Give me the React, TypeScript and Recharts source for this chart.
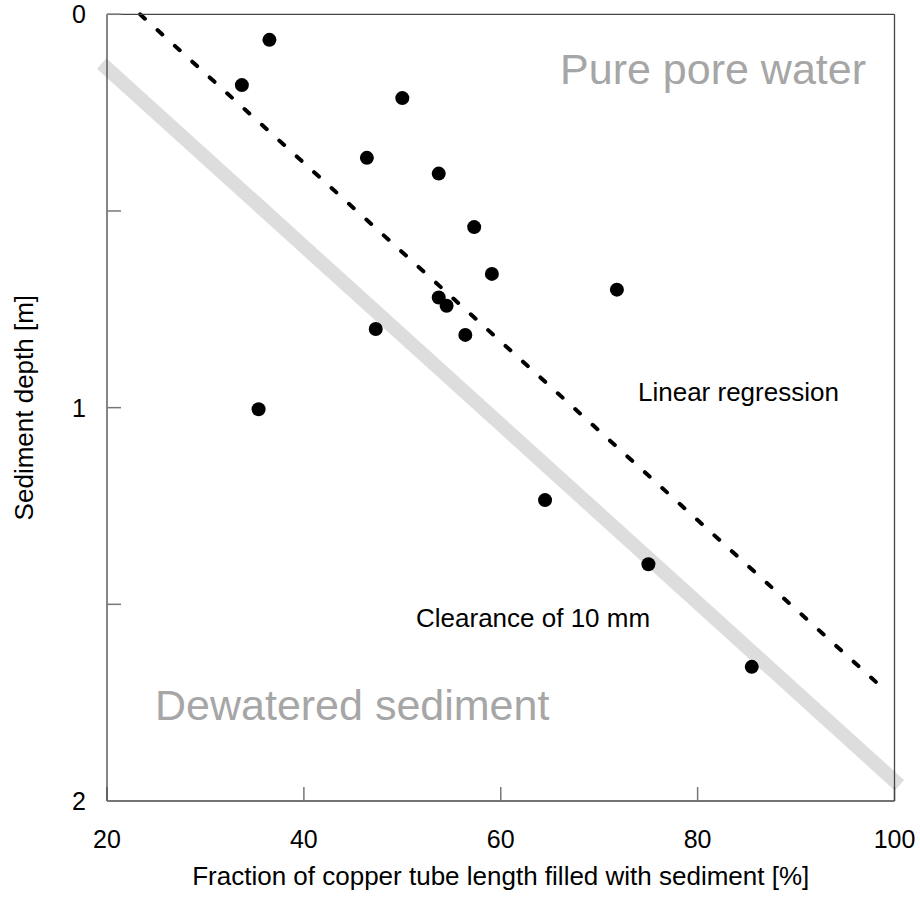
import React from "react";
import {
  ScatterChart,
  Scatter,
  XAxis,
  YAxis,
  ReferenceLine,
  Customized,
} from "recharts";

document.body.style.margin = "0";

// fraction of copper tube filled [%] and sediment depth [m]
const fillFraction = [33.7, 36.5, 50.0, 46.4, 53.7, 57.3, 59.1, 71.8, 53.7, 54.5, 47.3, 56.4, 35.4, 64.5, 75.0, 85.5];
const sedimentDepth = [0.18, 0.065, 0.213, 0.365, 0.405, 0.541, 0.66, 0.7, 0.72, 0.741, 0.8, 0.815, 1.004, 1.235, 1.398, 1.659];

const xTicks = [20, 40, 60, 80, 100];
const yTicks = [0, 0.5, 1, 1.5, 2];

// dashed regression line and grey 10 mm clearance band (end points)
const regressionX = [23.36, 98.85];
const regressionY = [0, 1.714];
const clearanceX = [19.46, 100.5];
const clearanceY = [0.125, 1.96];

const points = fillFraction.map((x, i) => ({ x, y: sedimentDepth[i] }));
const regression = regressionX.map((x, i) => ({ x, y: regressionY[i] }));
const clearance = clearanceX.map((x, i) => ({ x, y: clearanceY[i] }));

const font = "'Liberation Sans', Arial, Helvetica, sans-serif";
const axisStroke = { stroke: "#444", strokeWidth: 1.3 };
const tickStroke = { stroke: "#777", strokeWidth: 1.5 };

function Annotations() {
  return (
    <g style={{ fontFamily: font }}>
      <text x={866} y={83.5} textAnchor="end" fontSize={43} fill="#a6a6a6">
        Pure pore water
      </text>
      <text x={155} y={720} textAnchor="start" fontSize={43} fill="#a6a6a6">
        Dewatered sediment
      </text>
      <text x={638} y={401} textAnchor="start" fontSize={26} fill="#000">
        Linear regression
      </text>
      <text x={416} y={627} textAnchor="start" fontSize={26} fill="#000">
        Clearance of 10 mm
      </text>
    </g>
  );
}

const Dot = (props: any) => <circle cx={props.cx} cy={props.cy} r={7} fill="#000" />;

export default function App() {
  return (
    <div style={{ width: 920, height: 906, fontFamily: font, background: "#fff" }}>
      <ScatterChart width={920} height={906} margin={{ top: 13.3, right: 24.5, bottom: 0, left: 5 }}>
        <XAxis
          xAxisId="bottom"
          type="number"
          dataKey="x"
          domain={[20, 100]}
          ticks={xTicks}
          interval={0}
          allowDataOverflow
          height={105}
          tickSize={-14}
          tickMargin={43}
          axisLine={axisStroke}
          tickLine={tickStroke}
          tick={{ fill: "#000", fontSize: 25 }}
          label={{
            value: "Fraction of copper tube length filled with sediment [%]",
            position: "insideBottom",
            offset: 21,
            fill: "#000",
            fontSize: 26,
          }}
        />
        <XAxis
          xAxisId="top"
          orientation="top"
          type="number"
          domain={[20, 100]}
          ticks={xTicks}
          interval={0}
          allowDataOverflow
          height={1}
          tickSize={-14}
          tick={false}
          axisLine={axisStroke}
          tickLine={tickStroke}
        />
        <YAxis
          yAxisId="left"
          type="number"
          dataKey="y"
          reversed
          domain={[0, 2]}
          ticks={yTicks}
          interval={0}
          allowDataOverflow
          width={102}
          tickSize={-14}
          tickMargin={35}
          tickFormatter={(v: number) => (Number.isInteger(v) ? String(v) : "")}
          axisLine={axisStroke}
          tickLine={tickStroke}
          tick={{ fill: "#000", fontSize: 25 }}
          label={{
            value: "Sediment depth [m]",
            angle: -90,
            position: "insideLeft",
            offset: 19,
            fill: "#000",
            fontSize: 26,
            style: { textAnchor: "middle" },
          }}
        />
        <YAxis
          yAxisId="right"
          orientation="right"
          type="number"
          reversed
          domain={[0, 2]}
          ticks={yTicks}
          interval={0}
          allowDataOverflow
          width={1}
          tickSize={-14}
          tick={false}
          axisLine={axisStroke}
          tickLine={tickStroke}
        />
        <ReferenceLine
          xAxisId="bottom"
          yAxisId="left"
          segment={clearance}
          stroke="#dcdddc"
          strokeWidth={14}
          ifOverflow="visible"
        />
        <ReferenceLine
          xAxisId="bottom"
          yAxisId="left"
          segment={regression}
          stroke="#000"
          strokeWidth={4}
          strokeDasharray="6.5 17"
          strokeLinecap="round"
          ifOverflow="visible"
        />
        <Scatter
          xAxisId="bottom"
          yAxisId="left"
          data={points}
          shape={Dot}
          isAnimationActive={false}
        />
        <Customized component={Annotations} />
      </ScatterChart>
    </div>
  );
}
